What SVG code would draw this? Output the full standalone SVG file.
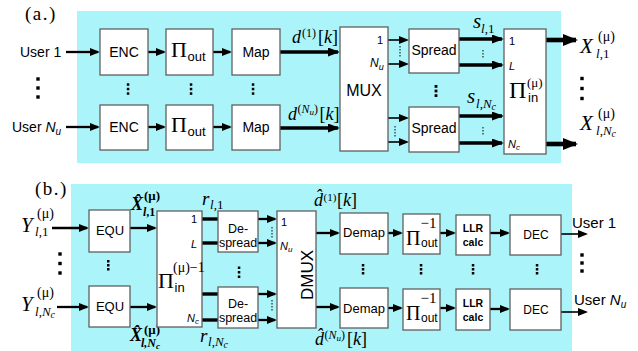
<svg xmlns="http://www.w3.org/2000/svg" width="638" height="351" viewBox="0 0 638 351">
<defs>
<style>
.bg{fill:#aaf4fa}
.box{fill:#fff;stroke:#606060;stroke-width:1.3}
.s{font-family:"Liberation Sans",Arial,sans-serif;fill:#000}
.r{font-family:"Liberation Serif","Times New Roman",serif;fill:#000}
.i{font-style:italic}
.b{font-weight:bold}
.m{text-anchor:middle}
.w1{stroke:#000;stroke-width:1.6;fill:none}
.w2{stroke:#000;stroke-width:2.3;fill:none}
.w3{stroke:#000;stroke-width:3.4;fill:none}
.w4{stroke:#000;stroke-width:4.6;fill:none}
.vd{stroke:#000;stroke-width:1;stroke-dasharray:1.5,1.5;fill:none}
.dt{fill:#000}
</style>
<marker id="a1" markerUnits="userSpaceOnUse" markerWidth="10" markerHeight="8" refX="8" refY="4" orient="auto"><path d="M0,0 L10,4 L0,8 z" fill="#000"/></marker>
<marker id="a2" markerUnits="userSpaceOnUse" markerWidth="12" markerHeight="9" refX="10" refY="4.5" orient="auto"><path d="M0,0 L12,4.5 L0,9 z" fill="#000"/></marker>
<marker id="a3" markerUnits="userSpaceOnUse" markerWidth="15" markerHeight="12" refX="13" refY="6" orient="auto"><path d="M0,0 L15,6 L0,12 z" fill="#000"/></marker>
</defs>

<rect class="bg" x="77" y="11" width="484" height="152"/>
<rect class="bg" x="71" y="184" width="501" height="167"/>

<text class="r" x="25" y="20" font-size="19" letter-spacing="1.5">(a.)</text>
<text class="r" x="35" y="195" font-size="19" letter-spacing="1.5">(b.)</text>

<g id="connectors">
<line class="w2" x1="66" y1="52" x2="98" y2="52" marker-end="url(#a1)"/>
<line class="w2" x1="66" y1="127" x2="98" y2="127" marker-end="url(#a1)"/>
<line class="w2" x1="148" y1="52" x2="164" y2="52" marker-end="url(#a1)"/>
<line class="w2" x1="148" y1="127" x2="164" y2="127" marker-end="url(#a1)"/>
<line class="w2" x1="213" y1="52" x2="230" y2="52" marker-end="url(#a1)"/>
<line class="w2" x1="213" y1="127" x2="230" y2="127" marker-end="url(#a1)"/>
<line class="w3" x1="280" y1="52" x2="338" y2="52" marker-end="url(#a2)"/>
<line class="w3" x1="280" y1="128" x2="338" y2="128" marker-end="url(#a2)"/>
<line class="w1" x1="388" y1="40" x2="407" y2="40" marker-end="url(#a1)"/>
<line class="w1" x1="388" y1="64" x2="407" y2="64" marker-end="url(#a1)"/>
<line class="w1" x1="388" y1="118" x2="407" y2="118" marker-end="url(#a1)"/>
<line class="w1" x1="388" y1="142" x2="407" y2="142" marker-end="url(#a1)"/>
<line class="w3" x1="459" y1="39" x2="502" y2="39" marker-end="url(#a2)"/>
<line class="w3" x1="459" y1="65" x2="502" y2="65" marker-end="url(#a2)"/>
<line class="w3" x1="459" y1="116" x2="502" y2="116" marker-end="url(#a2)"/>
<line class="w3" x1="459" y1="143" x2="502" y2="143" marker-end="url(#a2)"/>
<line class="w4" x1="546" y1="40" x2="576" y2="40" marker-end="url(#a3)"/>
<line class="w4" x1="546" y1="144" x2="576" y2="144" marker-end="url(#a3)"/>

<line class="w2" x1="52" y1="228" x2="87" y2="228" marker-end="url(#a1)"/>
<line class="w2" x1="57" y1="307" x2="87" y2="307" marker-end="url(#a1)"/>
<line class="w2" x1="130" y1="228" x2="155" y2="228" marker-end="url(#a1)"/>
<line class="w2" x1="130" y1="307" x2="155" y2="307" marker-end="url(#a1)"/>
<line class="w3" x1="202" y1="219" x2="218" y2="219"/>
<line class="w3" x1="202" y1="243" x2="218" y2="243"/>
<line class="w3" x1="202" y1="294" x2="218" y2="294"/>
<line class="w3" x1="202" y1="320" x2="218" y2="320"/>
<line class="w2" x1="258" y1="219" x2="275" y2="219" marker-end="url(#a1)"/>
<line class="w2" x1="258" y1="243" x2="275" y2="243" marker-end="url(#a1)"/>
<line class="w2" x1="258" y1="294" x2="275" y2="294" marker-end="url(#a1)"/>
<line class="w2" x1="258" y1="320" x2="275" y2="320" marker-end="url(#a1)"/>
<line class="w2" x1="316" y1="233" x2="338" y2="233" marker-end="url(#a1)"/>
<line class="w2" x1="316" y1="307" x2="338" y2="307" marker-end="url(#a1)"/>
<line class="w2" x1="388" y1="233" x2="401" y2="233" marker-end="url(#a1)"/>
<line class="w2" x1="388" y1="308" x2="401" y2="308" marker-end="url(#a1)"/>
<line class="w2" x1="440" y1="233" x2="454" y2="233" marker-end="url(#a1)"/>
<line class="w2" x1="440" y1="308" x2="454" y2="308" marker-end="url(#a1)"/>
<line class="w2" x1="490" y1="233" x2="508" y2="233" marker-end="url(#a1)"/>
<line class="w2" x1="490" y1="309" x2="508" y2="309" marker-end="url(#a1)"/>
<line class="w1" x1="561" y1="234" x2="586" y2="234" marker-end="url(#a1)"/>
<line class="w1" x1="561" y1="312" x2="586" y2="312" marker-end="url(#a1)"/>

<line class="vd" x1="400" y1="46" x2="400" y2="57"/>
<line class="vd" x1="395" y1="126" x2="395" y2="137"/>
<line class="vd" x1="483" y1="50" x2="483" y2="58"/>
<line class="vd" x1="483" y1="127" x2="483" y2="135"/>
<line class="vd" x1="272" y1="227" x2="272" y2="238"/>
<line class="vd" x1="272" y1="300" x2="272" y2="311"/>
</g>

<g id="ellipses" class="dt">
<rect x="36.3" y="77.3" width="3.4" height="3.4"/><rect x="36.3" y="86.3" width="3.4" height="3.4"/><rect x="36.3" y="95.3" width="3.4" height="3.4"/>
<rect x="126.8" y="83.3" width="2.5" height="2.5"/><rect x="126.8" y="87.8" width="2.5" height="2.5"/><rect x="126.8" y="92.3" width="2.5" height="2.5"/>
<rect x="189.8" y="83.3" width="2.5" height="2.5"/><rect x="189.8" y="87.8" width="2.5" height="2.5"/><rect x="189.8" y="92.3" width="2.5" height="2.5"/>
<rect x="251.8" y="83.3" width="2.5" height="2.5"/><rect x="251.8" y="87.8" width="2.5" height="2.5"/><rect x="251.8" y="92.3" width="2.5" height="2.5"/>
<rect x="434.6" y="85" width="2.8" height="2.8"/><rect x="434.6" y="89.6" width="2.8" height="2.8"/><rect x="434.6" y="94.2" width="2.8" height="2.8"/>
<rect x="580.3" y="76.8" width="3.4" height="3.4"/><rect x="580.3" y="86.8" width="3.4" height="3.4"/><rect x="580.3" y="96.8" width="3.4" height="3.4"/>

<rect x="58.3" y="252.3" width="3.4" height="3.4"/><rect x="58.3" y="261.8" width="3.4" height="3.4"/><rect x="58.3" y="271.3" width="3.4" height="3.4"/>
<rect x="107" y="260" width="2.5" height="2.5"/><rect x="107" y="264" width="2.5" height="2.5"/><rect x="107" y="268" width="2.5" height="2.5"/>
<rect x="237.8" y="266.5" width="2.5" height="2.5"/><rect x="237.8" y="271" width="2.5" height="2.5"/><rect x="237.8" y="275.5" width="2.5" height="2.5"/>
<rect x="361.8" y="264" width="2.5" height="2.5"/><rect x="361.8" y="268" width="2.5" height="2.5"/><rect x="361.8" y="272" width="2.5" height="2.5"/>
<rect x="419.8" y="264" width="2.5" height="2.5"/><rect x="419.8" y="268" width="2.5" height="2.5"/><rect x="419.8" y="272" width="2.5" height="2.5"/>
<rect x="471.8" y="264" width="2.5" height="2.5"/><rect x="471.8" y="268" width="2.5" height="2.5"/><rect x="471.8" y="272" width="2.5" height="2.5"/>
<rect x="535.8" y="264" width="2.5" height="2.5"/><rect x="535.8" y="268" width="2.5" height="2.5"/><rect x="535.8" y="272" width="2.5" height="2.5"/>
<rect x="580.3" y="253.3" width="3.4" height="3.4"/><rect x="580.3" y="261.3" width="3.4" height="3.4"/><rect x="580.3" y="269.3" width="3.4" height="3.4"/>
</g>

<g id="user1-in"><text class="s" x="20" y="57" font-size="14">User 1</text></g>
<g id="userNu-in"><text class="s" x="12" y="132" font-size="14">User <tspan class="i">N</tspan><tspan class="i" font-size="10" dy="3">u</tspan></text></g>

<g id="enc1"><rect class="box" x="100" y="29" width="48" height="46"/><text class="s m" x="124" y="57" font-size="14">ENC</text></g>
<g id="enc2"><rect class="box" x="100" y="105" width="48" height="45"/><text class="s m" x="124" y="132" font-size="14">ENC</text></g>
<g id="piout1"><rect class="box" x="166" y="29" width="47" height="46"/><text class="r" font-size="22"><tspan x="171" y="57">Π</tspan><tspan class="s" x="187.5" y="61" font-size="13">out</tspan></text></g>
<g id="piout2"><rect class="box" x="166" y="105" width="47" height="45"/><text class="r" font-size="22"><tspan x="171" y="132">Π</tspan><tspan class="s" x="187.5" y="136" font-size="13">out</tspan></text></g>
<g id="map1"><rect class="box" x="232" y="29" width="48" height="46"/><text class="s m" x="256" y="57" font-size="14">Map</text></g>
<g id="map2"><rect class="box" x="232" y="105" width="48" height="45"/><text class="s m" x="256" y="132" font-size="14">Map</text></g>

<g id="d1-label"><text class="r" font-size="18"><tspan class="i" x="292" y="43">d</tspan><tspan x="302" y="37" font-size="12">(1)</tspan><tspan x="318" y="43">[</tspan><tspan class="i">k</tspan><tspan>]</tspan></text></g>
<g id="dNu-label"><text class="r" font-size="18"><tspan class="i" x="288" y="120">d</tspan><tspan x="297.5" y="113" font-size="12">(</tspan><tspan class="i" font-size="12">N</tspan><tspan class="i" font-size="9" dy="2">u</tspan><tspan font-size="12" dy="-2">)</tspan><tspan x="319.5" y="120">[</tspan><tspan class="i">k</tspan><tspan>]</tspan></text></g>

<g id="mux"><rect class="box" x="340" y="27" width="48" height="124"/>
<text class="s" x="377" y="44" font-size="11">1</text>
<text class="s i" x="370" y="67" font-size="12">N<tspan font-size="9" dy="3">u</tspan></text>
<text class="s m" x="364" y="96" font-size="16">MUX</text></g>

<g id="spread1"><rect class="box" x="409" y="29" width="50" height="44"/><text class="s m" x="434" y="55" font-size="14">Spread</text></g>
<g id="spread2"><rect class="box" x="409" y="107" width="50" height="45"/><text class="s m" x="434" y="133" font-size="14">Spread</text></g>

<g id="s1-label"><text class="r" font-size="21"><tspan class="i" x="473" y="28">s</tspan><tspan class="i" x="481" y="33" font-size="13">l</tspan><tspan font-size="13">,1</tspan></text></g>
<g id="sNc-label"><text class="r" font-size="21"><tspan class="i" x="467" y="103">s</tspan><tspan class="i" x="476" y="108" font-size="13">l</tspan><tspan font-size="13">,</tspan><tspan class="i" font-size="13">N</tspan><tspan class="i" font-size="10" dy="2">c</tspan></text></g>

<g id="piin"><rect class="box" x="504" y="29" width="42" height="125"/>
<text class="s" x="509" y="45" font-size="11">1</text>
<text class="s i" x="509" y="70" font-size="11">L</text>
<text class="s i" x="508" y="148" font-size="11">N<tspan font-size="8" dy="2">c</tspan></text>
<text class="r" font-size="24"><tspan x="509" y="98">Π</tspan><tspan x="527" y="87" font-size="13">(μ)</tspan><tspan class="s" x="528" y="102" font-size="13">in</tspan></text></g>

<g id="X1-out"><text class="r" font-size="21"><tspan class="i" x="580" y="53">X</tspan><tspan x="598" y="41" font-size="14">(μ)</tspan><tspan class="i" x="596" y="58" font-size="13">l</tspan><tspan font-size="13">,1</tspan></text></g>
<g id="XNc-out"><text class="r" font-size="21"><tspan class="i" x="580" y="130">X</tspan><tspan x="598" y="118" font-size="14">(μ)</tspan><tspan class="i" x="596" y="135" font-size="13">l</tspan><tspan font-size="13">,</tspan><tspan class="i" font-size="13">N</tspan><tspan class="i" font-size="10" dy="2">c</tspan></text></g>

<g id="Y1-in"><text class="r" font-size="21"><tspan class="i" x="21" y="232">Y</tspan><tspan x="37" y="218" font-size="14">(μ)</tspan><tspan class="i" x="35" y="236" font-size="13">l</tspan><tspan font-size="13">,1</tspan></text></g>
<g id="YNc-in"><text class="r" font-size="21"><tspan class="i" x="21" y="311">Y</tspan><tspan x="37" y="297" font-size="14">(μ)</tspan><tspan class="i" x="35" y="316" font-size="13">l</tspan><tspan font-size="13">,</tspan><tspan class="i" font-size="13">N</tspan><tspan class="i" font-size="10" dy="2">c</tspan></text></g>

<g id="equ1"><rect class="box" x="89" y="210" width="41" height="42"/><text class="s m" x="110" y="235" font-size="13">EQU</text></g>
<g id="equ2"><rect class="box" x="89" y="286" width="41" height="41"/><text class="s m" x="110" y="311" font-size="13">EQU</text></g>

<g id="Xhat1-label"><text class="r b" font-size="18"><tspan class="i" x="131" y="210">X̂</tspan><tspan x="144" y="200" font-size="13">(μ)</tspan><tspan class="i" x="143" y="216" font-size="12">l</tspan><tspan font-size="12">,1</tspan></text></g>
<g id="XhatNc-label"><text class="r b" font-size="18"><tspan class="i" x="130" y="341">X̂</tspan><tspan x="144" y="334" font-size="13">(μ)</tspan><tspan class="i" x="141" y="347" font-size="12">l,N</tspan><tspan class="i" font-size="9" dy="2">c</tspan></text></g>

<g id="piin-inv"><rect class="box" x="157" y="211" width="45" height="116"/>
<text class="s" x="191" y="223" font-size="11">1</text>
<text class="s i" x="191" y="248" font-size="11">L</text>
<text class="s i" x="187" y="322" font-size="11">N<tspan font-size="8" dy="2">c</tspan></text>
<text class="r" font-size="22"><tspan x="158" y="288">Π</tspan><tspan x="173" y="272" font-size="14">(μ)−1</tspan><tspan class="s" x="174.5" y="292" font-size="13">in</tspan></text></g>

<g id="r1-label"><text class="r" font-size="19"><tspan class="i" x="202" y="205">r</tspan><tspan class="i" x="210" y="209" font-size="13">l</tspan><tspan font-size="13">,1</tspan></text></g>
<g id="rNc-label"><text class="r" font-size="19"><tspan class="i" x="200" y="342">r</tspan><tspan class="i" x="208" y="346" font-size="13">l</tspan><tspan font-size="13">,</tspan><tspan class="i" font-size="13">N</tspan><tspan class="i" font-size="10" dy="1.5">c</tspan></text></g>

<g id="despread1"><rect class="box" x="218" y="211" width="40" height="41"/><text class="s m" x="238" y="232.5" font-size="12.5">De-</text><text class="s m" x="238" y="247" font-size="12.5">spread</text></g>
<g id="despread2"><rect class="box" x="218" y="287" width="40" height="41"/><text class="s m" x="238" y="307.5" font-size="12.5">De-</text><text class="s m" x="238" y="322" font-size="12.5">spread</text></g>

<g id="dmux"><rect class="box" x="277" y="211" width="39" height="117"/>
<text class="s" x="281" y="226" font-size="11">1</text>
<text class="s i" x="280" y="250" font-size="11">N<tspan font-size="8" dy="2">u</tspan></text>
<text class="s m" transform="translate(313,275) rotate(-90)" font-size="17">DMUX</text></g>

<g id="dhat1-label"><text class="r" font-size="18"><tspan class="i" x="314" y="206">d̂</tspan><tspan x="323.5" y="201" font-size="11">(1)</tspan><tspan x="337" y="206">[</tspan><tspan class="i">k</tspan><tspan>]</tspan></text></g>
<g id="dhatNu-label"><text class="r" font-size="18"><tspan class="i" x="315" y="345">d̂</tspan><tspan x="324.5" y="339" font-size="12">(</tspan><tspan class="i" font-size="12">N</tspan><tspan class="i" font-size="9" dy="2">u</tspan><tspan font-size="12" dy="-2">)</tspan><tspan x="347" y="345">[</tspan><tspan class="i">k</tspan><tspan>]</tspan></text></g>

<g id="demap1"><rect class="box" x="340" y="213" width="48" height="41"/><text class="s m" x="364" y="237" font-size="13">Demap</text></g>
<g id="demap2"><rect class="box" x="340" y="288" width="48" height="40"/><text class="s m" x="364" y="313" font-size="13">Demap</text></g>

<g id="pioutinv1"><rect class="box" x="403" y="214" width="37" height="40"/><text class="r" font-size="20"><tspan x="406" y="245">Π</tspan><tspan x="420.5" y="228" font-size="15">−1</tspan><tspan class="s" x="421" y="247" font-size="12">out</tspan></text></g>
<g id="pioutinv2"><rect class="box" x="403" y="289" width="37" height="41"/><text class="r" font-size="20"><tspan x="406" y="320">Π</tspan><tspan x="420.5" y="303" font-size="15">−1</tspan><tspan class="s" x="421" y="322" font-size="12">out</tspan></text></g>

<g id="llr1"><rect class="box" x="456" y="215" width="34" height="40"/><text class="s b m" x="473" y="232" font-size="10.5">LLR</text><text class="s b m" x="473" y="246" font-size="10.5">calc</text></g>
<g id="llr2"><rect class="box" x="456" y="289" width="34" height="41"/><text class="s b m" x="473" y="307" font-size="10.5">LLR</text><text class="s b m" x="473" y="321" font-size="10.5">calc</text></g>

<g id="dec1"><rect class="box" x="510" y="215" width="51" height="40"/><text class="s m" x="536" y="239" font-size="12">DEC</text></g>
<g id="dec2"><rect class="box" x="510" y="289" width="51" height="41"/><text class="s m" x="536" y="314" font-size="12">DEC</text></g>

<g id="user1-out"><text class="s" x="572" y="228" font-size="15">User 1</text></g>
<g id="userNu-out"><text class="s" x="574" y="305" font-size="15">User <tspan class="i">N</tspan><tspan class="i" font-size="10" dy="3">u</tspan></text></g>
</svg>
